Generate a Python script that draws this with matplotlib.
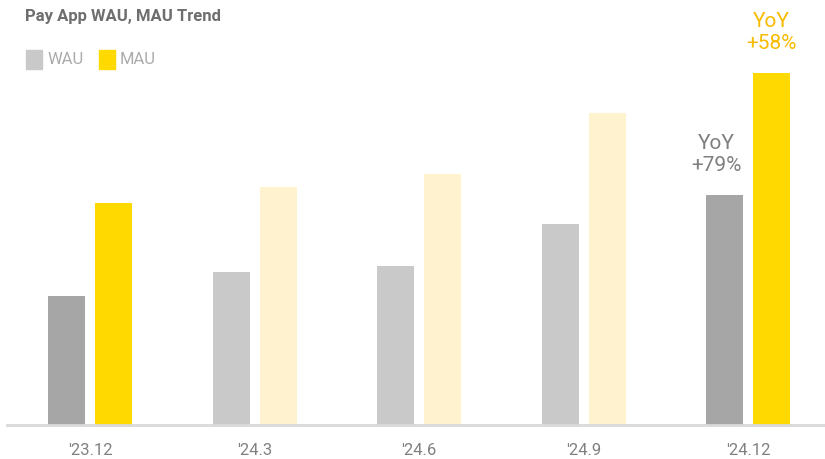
import matplotlib
matplotlib.use("Agg")
from matplotlib import pyplot as plt
from matplotlib.patches import Rectangle
from matplotlib import font_manager

# Quarterly active users (relative units)
quarters = ["'23.12", "'24.3", "'24.6", "'24.9", "'24.12"]
wau = [129, 153, 159, 201, 230]
mau = [222, 238, 251, 312, 352]
wau_yoy = "YoY\n+79%"
mau_yoy = "YoY\n+58%"

wau_colors = ["#a6a6a6", "#c9c9c9", "#c9c9c9", "#c9c9c9", "#a6a6a6"]
mau_colors = ["#ffd900", "#fff2cf", "#fff2cf", "#fff2cf", "#ffd900"]

names = {f.name for f in font_manager.fontManager.ttflist}
narrow = "Liberation Sans Narrow" if "Liberation Sans Narrow" in names else "Roboto"
plt.rcParams["font.family"] = [narrow, "DejaVu Sans"]

fig = plt.figure(figsize=(8.25, 4.59), dpi=100)
ax = fig.add_axes([7 / 825, 34 / 459, 818 / 825, 425 / 459])

x = list(range(len(quarters)))
width = 0.225
offset = 0.143
ax.bar([i - offset for i in x], wau, width=width, color=wau_colors)
ax.bar([i + offset for i in x], mau, width=width, color=mau_colors)

ax.set_xlim(-0.505, 4.468)
ax.set_ylim(0, 425)
for side in ["top", "right", "left"]:
    ax.spines[side].set_visible(False)
ax.spines["bottom"].set_color("#d9d9d9")
ax.spines["bottom"].set_linewidth(2)
ax.set_yticks([])
ax.set_xticks(x)
ax.set_xticklabels(quarters, fontsize=12, color="#808080")
ax.tick_params(axis="x", length=0, pad=13)

# YoY callouts above the latest quarter
ax.text(x[-1] - offset - 0.05, wau[-1] + 20, wau_yoy, ha="center", va="bottom",
        fontsize=15, color="#7f7f7f", family=["Roboto", "DejaVu Sans"],
        linespacing=1.2)
ax.text(x[-1] + offset, mau[-1] + 20, mau_yoy, ha="center", va="bottom",
        fontsize=15, color="#f7bb00", family=["Roboto", "DejaVu Sans"],
        linespacing=1.2)

fig.text(25 / 825, 1 - 17 / 459, "Pay App WAU, MAU Trend", fontsize=12,
         fontweight="bold", color="#6e6e6e", va="center", ha="left",
         family=["Roboto", "DejaVu Sans"])

# legend drawn as figure patches
for sx, label, color in [(26, "WAU", "#c9c9c9"), (99, "MAU", "#ffd900")]:
    fig.patches.append(Rectangle((sx / 825, 1 - 69 / 459), 16 / 825, 19 / 459,
                                 transform=fig.transFigure, color=color))
    fig.text((sx + 21) / 825, 1 - 60 / 459, label, fontsize=12,
             color="#ababab", va="center", ha="left",
             family=["Roboto", "DejaVu Sans"])

fig.savefig("out.png", dpi=100)
